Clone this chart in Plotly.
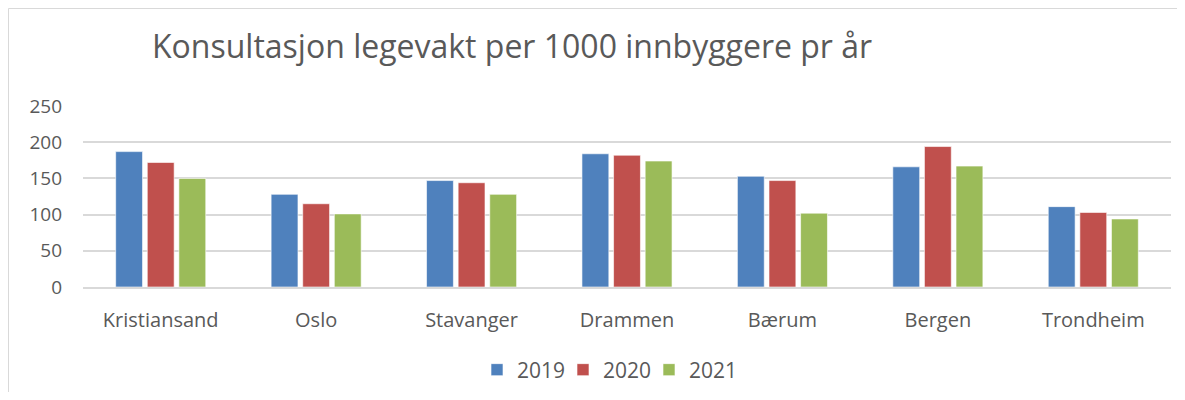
import plotly.graph_objects as go

categories = ["Kristiansand", "Oslo", "Stavanger", "Drammen", "Bærum", "Bergen", "Trondheim"]
v2019 = [187, 128, 147, 184, 153, 166, 111]
v2020 = [172, 115, 144, 182, 147, 194, 103]
v2021 = [150, 101, 128, 174, 102, 167, 94]
series = [("2019", v2019, "#4F81BD"), ("2020", v2020, "#C0504D"), ("2021", v2021, "#9BBB59")]
yticks = [0, 50, 100, 150, 200, 250]

FONT = "Open Sans"
GREY = "#595959"
OFF = 8  # page body margin

fig = go.Figure()
for name, vals, col in series:
    fig.add_trace(go.Bar(x=categories, y=vals, name=name,
                         marker=dict(color=col, line=dict(color="rgba(255,255,255,0.6)", width=1))))

W, H = 1185 - 2 * OFF, 400 - 2 * OFF
# plot area in screen coords: x 83..1171, y 106..287
ml, mr, mt, mb = 83 - OFF, W - (1171 - OFF), 106 - OFF, H - (287 - OFF)
pw, ph = W - ml - mr, H - mt - mb

def px(x):
    return (x - OFF - ml) / pw

fig.update_layout(
    width=W, height=H,
    margin=dict(l=ml, r=mr, t=mt, b=mb),
    plot_bgcolor="white", paper_bgcolor="white",
    barmode="group", bargap=0.39, bargroupgap=0.15,
    title=dict(text="Konsultasjon legevakt per 1000 innbyggere pr år", x=px(152), xanchor="left", xref="paper",
               y=(H - (47 - OFF)) / H, yanchor="middle",
               font=dict(family=FONT, size=32, color=GREY)),
    font=dict(family=FONT, size=20, color=GREY),
    legend=dict(orientation="h", x=(606 - OFF) / W, xanchor="center", xref="container",
                y=(H - (370 - OFF)) / H, yref="container", yanchor="middle",
                font=dict(family=FONT, size=21, color=GREY), entrywidth=41, entrywidthmode="pixels"),
    xaxis=dict(showline=True, linecolor="#d9d9d9", linewidth=1.5, tickfont=dict(size=20, color=GREY),
               ticks="", showgrid=False, ticklabelstandoff=14),
    yaxis=dict(range=[0, 250], tickvals=yticks, showgrid=True, gridcolor="#d9d9d9", gridwidth=1.5,
               zeroline=False, showline=False, tickfont=dict(size=19, color=GREY), ticklabelstandoff=20),
    shapes=[dict(type="rect", xref="paper", yref="paper",
                 x0=(0.5 - ml) / pw, x1=(1180.5 - OFF - ml) / pw,
                 y0=(-mb - 40) / ph, y1=(ph + mt - 0.5) / ph,
                 line=dict(color="#d9d9d9", width=1), fillcolor="rgba(0,0,0,0)", layer="below")],
)
fig.write_html("out.html")
